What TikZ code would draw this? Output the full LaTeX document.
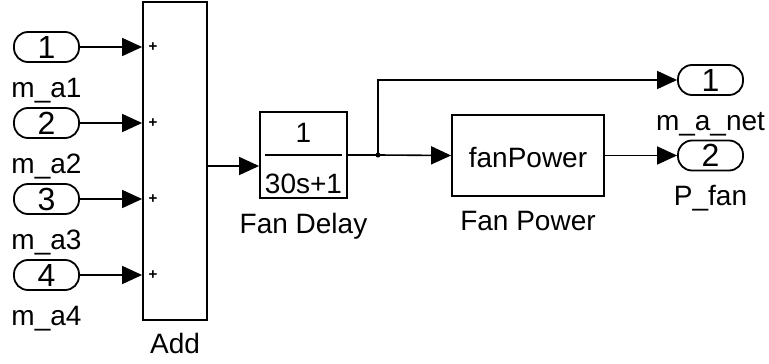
\documentclass[tikz,border=0pt]{standalone}
\usepackage{fontspec}
\setmainfont{Liberation Sans}
\usetikzlibrary{arrows.meta,positioning}

\begin{document}
\begin{tikzpicture}[x=1pt,y=-1pt,
  port/.style={draw,line width=1.8pt,rounded corners=14pt,minimum width=65pt,
    minimum height=30pt,inner sep=0pt,font=\fontsize{32}{32}\selectfont},
  blk/.style={draw,line width=1.8pt,inner sep=0pt},
  lbl/.style={anchor=base,inner sep=0pt,font=\fontsize{28}{30}\selectfont},
  sgn/.style={inner sep=0pt,font=\bfseries\fontsize{15}{15}\selectfont},
  sig/.style={line width=1.6pt,-{Triangle[length=20pt,width=18pt]}},
  wire/.style={line width=1.6pt}]

\useasboundingbox (0,0) rectangle (769,364);

%========================
% Somma
%========================

\node[blk,minimum width=64pt,minimum height=318pt] (add) at (175,161) {};
\node[lbl] (addlbl) at (175,353) {Add};

% ingressi
\foreach \i/\y in {1/47,2/123,3/199,4/275}
{
    \node[port] (in\i) at (46.5,\y) {\i};
    \node[lbl] (inlbl\i) at (46.5,\y+50) {m\_a\i};
    \node[sgn] (plus\i) at (153,\y) {+};
    \draw[sig] (in\i.east) -- (in\i -| add.west);
}

%========================
% Ritardo
%========================

\node[blk,minimum width=87pt,minimum height=86pt] (delay) at (303.5,155) {};
\node[lbl] (num) at (303.5,142) {1};
\node[lbl] (den) at (303.5,193) {30s+1};
\draw[wire] (265,155) -- (342,155);
\node[lbl] (delaylbl) at (303.5,233) {Fan Delay};

\coordinate (addout) at (207,166);
\draw[sig] (addout) -- (addout -| delay.west);

%========================
% Potenza
%========================

\node[blk,minimum width=152pt,minimum height=81pt] (power) at (528,155.5) {};
\node[lbl] (fun) at (528,167) {fanPower};
\node[lbl] (powerlbl) at (528,230) {Fan Power};

% uscite
\node[port] (out1) at (710.5,80) {1};
\node[lbl] (outlbl1) at (710.5,130) {m\_a\_net};
\node[port] (out2) at (710.5,155.5) {2};
\node[lbl] (outlbl2) at (710.5,205) {P\_fan};

% diramazione
\coordinate (br) at (378,155);
\draw[wire] (delay.east) -- (br);
\fill (br) circle (2.5pt);
\draw[sig] (br) -- (power.west);
\draw[sig] (br) |- (out1.west);
\draw[sig] (power.east) -- (out2.west);
\end{tikzpicture}
\end{document}
